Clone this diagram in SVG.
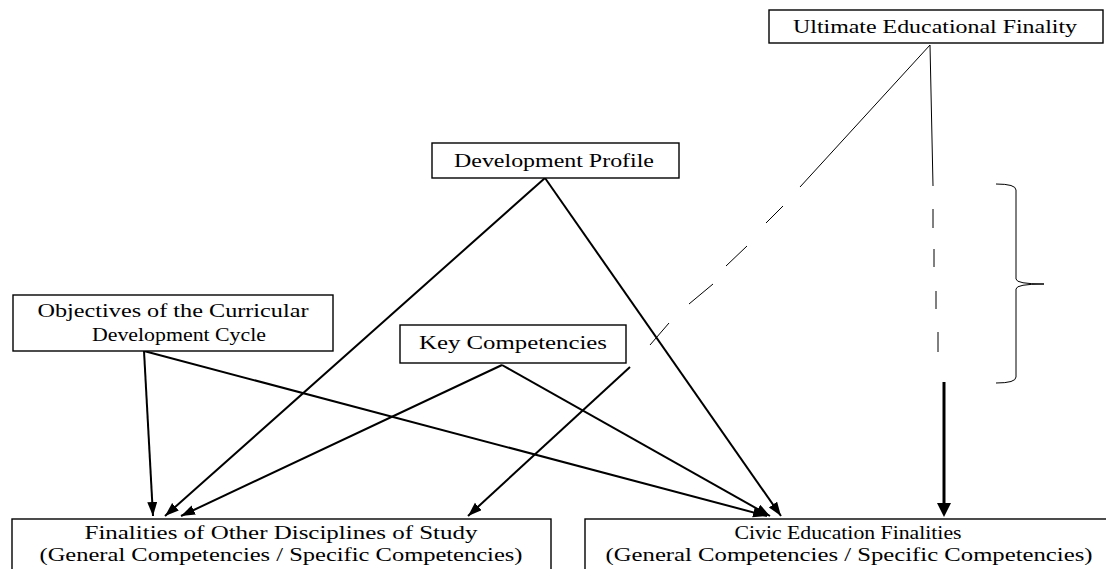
<svg xmlns="http://www.w3.org/2000/svg" width="1106" height="569" viewBox="0 0 1106 569">
<style>
.box{fill:#fff;stroke:#000;stroke-width:1.4}
.t{font-family:"Liberation Serif","Times New Roman",serif;font-size:18px;fill:#000;text-anchor:middle}
.thick{stroke:#000;stroke-width:2;fill:none}
.thin{stroke:#000;stroke-width:1;fill:none}
</style>
<defs>
<marker id="ah" markerUnits="userSpaceOnUse" markerWidth="15" markerHeight="11" refX="14" refY="5" orient="auto">
<path d="M0,0 L14,5 L0,10 z" fill="#000"/>
</marker>
</defs>
<rect width="1106" height="569" fill="#fff"/>
<g id="connectors">
<line class="thick" x1="144" y1="351" x2="153" y2="516" marker-end="url(#ah)"/>
<line class="thick" x1="545" y1="178" x2="165" y2="516" marker-end="url(#ah)"/>
<line class="thick" x1="502" y1="365" x2="181" y2="516" marker-end="url(#ah)"/>
<line class="thick" x1="630" y1="367" x2="468" y2="516" marker-end="url(#ah)"/>
<line class="thick" x1="144" y1="351" x2="767" y2="516" marker-end="url(#ah)"/>
<line class="thick" x1="502" y1="365" x2="770" y2="516" marker-end="url(#ah)"/>
<line class="thick" x1="545" y1="178" x2="781" y2="516" marker-end="url(#ah)"/>
<line class="thin" x1="930" y1="45" x2="800" y2="187"/>
<line class="thin" x1="783" y1="206" x2="766" y2="223"/>
<line class="thin" x1="747" y1="246" x2="726" y2="266"/>
<line class="thin" x1="713" y1="284" x2="689" y2="304"/>
<line class="thin" x1="669" y1="323" x2="650" y2="345"/>
<line class="thin" x1="930" y1="45" x2="933" y2="186"/>
<line class="thin" x1="933" y1="209" x2="933" y2="228"/>
<line class="thin" x1="934" y1="249" x2="934" y2="267"/>
<line class="thin" x1="936" y1="291" x2="936" y2="309"/>
<line class="thin" x1="938" y1="332" x2="938" y2="352"/>
<line stroke="#000" stroke-width="3" x1="944" y1="382" x2="944" y2="505"/>
<path d="M937,503 L944,517 L951,503 z" fill="#000"/>
<path class="thin" d="M996,184 Q1016,184 1016,190 L1016,279 Q1016,284 1044,284 Q1016,284 1016,289 L1016,377 Q1016,383 996,383"/>
</g>
<g id="ultimate">
<rect class="box" x="769" y="10" width="334" height="33"/>
<text class="t" x="935" y="33" textLength="284" lengthAdjust="spacingAndGlyphs">Ultimate Educational Finality</text>
</g>
<g id="profile">
<rect class="box" x="432" y="143" width="247" height="35"/>
<text class="t" x="554" y="167" textLength="200" lengthAdjust="spacingAndGlyphs">Development Profile</text>
</g>
<g id="objectives">
<rect class="box" x="13" y="295" width="320" height="56"/>
<text class="t" x="173" y="317" textLength="271" lengthAdjust="spacingAndGlyphs">Objectives of the Curricular</text>
<text class="t" x="179" y="341" textLength="174" lengthAdjust="spacingAndGlyphs">Development Cycle</text>
</g>
<g id="key">
<rect class="box" x="400" y="325" width="226" height="38"/>
<text class="t" x="513" y="349" textLength="188" lengthAdjust="spacingAndGlyphs">Key Competencies</text>
</g>
<g id="other">
<rect class="box" x="12" y="519" width="539" height="60"/>
<text class="t" x="281" y="539" textLength="393" lengthAdjust="spacingAndGlyphs">Finalities of Other Disciplines of Study</text>
<text class="t" x="281" y="561" textLength="483" lengthAdjust="spacingAndGlyphs">(General Competencies / Specific Competencies)</text>
</g>
<g id="civic">
<rect class="box" x="585" y="519" width="530" height="60"/>
<text class="t" x="848" y="539" textLength="227" lengthAdjust="spacingAndGlyphs">Civic Education Finalities</text>
<text class="t" x="849" y="561" textLength="487" lengthAdjust="spacingAndGlyphs">(General Competencies / Specific Competencies)</text>
</g>
</svg>
